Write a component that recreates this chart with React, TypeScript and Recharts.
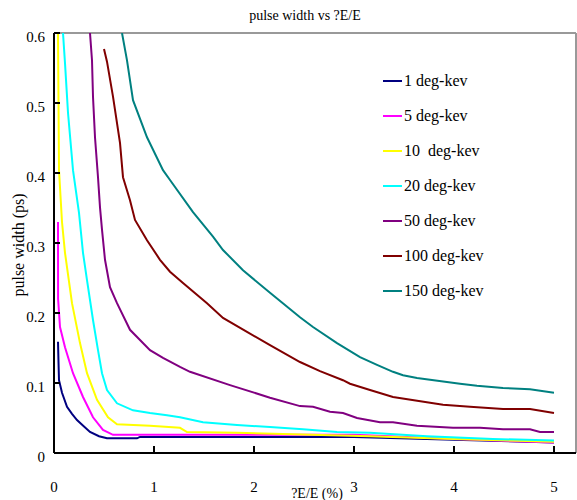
import React from "react";
import { LineChart, Line, XAxis, YAxis, ReferenceLine } from "recharts";

const xTicks = [0, 1, 2, 3, 4, 5];
const yTicks = [0, 0.1, 0.2, 0.3, 0.4, 0.5, 0.6];

const x1 = [0.04, 0.045, 0.05, 0.08, 0.13, 0.18, 0.23, 0.3, 0.36, 0.45, 0.53, 0.83, 0.86, 2.0, 3.0, 4.0, 5.0];
const y1 = [0.159, 0.13, 0.104, 0.086, 0.066, 0.056, 0.047, 0.038, 0.03, 0.024, 0.021, 0.021, 0.023, 0.023, 0.023, 0.019, 0.015];

const x5 = [0.04, 0.041, 0.06, 0.11, 0.19, 0.29, 0.39, 0.49, 0.59, 1.0, 2.0, 3.0, 4.0, 5.0];
const y5 = [0.33, 0.22, 0.18, 0.151, 0.114, 0.08, 0.051, 0.033, 0.026, 0.026, 0.026, 0.026, 0.02, 0.015];

const x10 = [0.04, 0.05, 0.08, 0.11, 0.18, 0.26, 0.33, 0.43, 0.54, 0.63, 0.96, 1.26, 1.33, 1.83, 3.16, 4.0, 5.0];
const y10 = [0.6, 0.404, 0.33, 0.286, 0.214, 0.157, 0.114, 0.076, 0.051, 0.041, 0.039, 0.036, 0.03, 0.029, 0.024, 0.02, 0.016];

const x20 = [0.09, 0.11, 0.14, 0.19, 0.25, 0.29, 0.33, 0.39, 0.44, 0.48, 0.53, 0.63, 0.79, 0.96, 1.13, 1.26, 1.49, 1.83, 2.16, 2.49, 2.83, 3.16, 3.73, 4.39, 5.0];
const y20 = [0.6, 0.557, 0.486, 0.404, 0.343, 0.286, 0.247, 0.19, 0.147, 0.114, 0.09, 0.071, 0.061, 0.057, 0.054, 0.051, 0.044, 0.04, 0.037, 0.034, 0.03, 0.029, 0.024, 0.02, 0.018];

const x50 = [0.36, 0.38, 0.39, 0.41, 0.44, 0.46, 0.48, 0.51, 0.56, 0.63, 0.76, 0.96, 1.09, 1.26, 1.36, 1.76, 2.16, 2.46, 2.59, 2.76, 2.89, 3.03, 3.26, 3.39, 3.63, 3.99, 4.26, 4.49, 4.76, 4.86, 5.0];
const y50 = [0.6, 0.561, 0.509, 0.451, 0.394, 0.351, 0.319, 0.276, 0.237, 0.214, 0.176, 0.147, 0.136, 0.123, 0.116, 0.097, 0.079, 0.067, 0.066, 0.059, 0.057, 0.05, 0.044, 0.044, 0.039, 0.036, 0.036, 0.034, 0.034, 0.03, 0.03];

const x100 = [0.5, 0.53, 0.59, 0.66, 0.69, 0.76, 0.81, 0.93, 1.06, 1.16, 1.29, 1.53, 1.69, 1.93, 2.16, 2.46, 2.66, 2.89, 2.96, 3.16, 3.39, 3.89, 4.16, 4.49, 4.76, 5.0];
const y100 = [0.577, 0.559, 0.509, 0.443, 0.394, 0.361, 0.333, 0.304, 0.276, 0.259, 0.243, 0.214, 0.193, 0.173, 0.154, 0.13, 0.117, 0.104, 0.099, 0.09, 0.08, 0.069, 0.066, 0.063, 0.063, 0.057];

const x150 = [0.68, 0.73, 0.79, 0.93, 1.09, 1.16, 1.39, 1.59, 1.69, 1.89, 2.16, 2.46, 2.59, 2.83, 3.06, 3.23, 3.39, 3.49, 3.63, 4.06, 4.23, 4.49, 4.76, 5.0];
const y150 = [0.6, 0.561, 0.504, 0.451, 0.404, 0.39, 0.344, 0.309, 0.29, 0.261, 0.229, 0.194, 0.18, 0.157, 0.137, 0.126, 0.116, 0.111, 0.107, 0.099, 0.096, 0.093, 0.091, 0.086];

const seriesNames = ["1 deg-kev", "5 deg-kev", "10  deg-kev", "20 deg-kev", "50 deg-kev", "100 deg-kev", "150 deg-kev"];
const seriesColors = ["#000080", "#FF00FF", "#FFFF00", "#00FFFF", "#800080", "#800000", "#008080"];
const seriesX = [x1, x5, x10, x20, x50, x100, x150];
const seriesY = [y1, y5, y10, y20, y50, y100, y150];

const series = seriesNames.map((name, i) => ({
  name,
  color: seriesColors[i],
  data: seriesX[i].map((x, j) => ({ x, y: seriesY[i][j] })),
}));

const FONT = "'Liberation Serif', 'Times New Roman', serif";

const XTick = (props: any) => {
  const { x, y, payload } = props;
  return (
    <g>
      <line x1={x} y1={y} x2={x} y2={y - 7} stroke="#000" strokeWidth={2} />
      <text x={x} y={y + 39} textAnchor="middle" fontSize={15} fontFamily={FONT} fill="#000">
        {payload.value}
      </text>
    </g>
  );
};

const YTick = (props: any) => {
  const { x, y, payload } = props;
  return (
    <g>
      <line x1={x} y1={y} x2={x + 6} y2={y} stroke="#000" strokeWidth={2} />
      <text x={x - 9} y={y + 9} textAnchor="end" fontSize={15} fontFamily={FONT} fill="#000">
        {payload.value}
      </text>
    </g>
  );
};

export default function App() {
  return (
    <div style={{ position: "absolute", left: 0, top: 0, width: 577, height: 500, background: "#fff" }}>
      <LineChart
        width={577}
        height={500}
        margin={{ top: 33, right: 1, bottom: 46, left: 53 }}
      >
        <XAxis
          type="number"
          dataKey="x"
          domain={[0, 5.22]}
          ticks={xTicks}
          allowDataOverflow
          height={1}
          tickSize={0}
          tickMargin={0}
          tickLine={false}
          axisLine={{ stroke: "#000", strokeWidth: 2 }}
          tick={<XTick />}
          interval={0}
        />
        <YAxis
          type="number"
          dataKey="y"
          domain={[0, 0.6]}
          ticks={yTicks}
          allowDataOverflow
          width={1}
          tickSize={0}
          tickMargin={0}
          tickLine={false}
          axisLine={{ stroke: "#000", strokeWidth: 2 }}
          tick={<YTick />}
          interval={0}
        />
        <ReferenceLine y={0.6} stroke="#999" strokeWidth={2} />
        <ReferenceLine x={5.22} stroke="#999" strokeWidth={2} />
        {series.map((s) => (
          <Line
            key={s.name}
            data={s.data}
            dataKey="y"
            name={s.name}
            type="linear"
            stroke={s.color}
            strokeWidth={2}
            dot={false}
            isAnimationActive={false}
          />
        ))}
      </LineChart>
      <div
        style={{
          position: "absolute",
          left: 383,
          top: 63,
          fontFamily: FONT,
          fontSize: 16,
          color: "#000",
        }}
      >
        {series.map((s) => (
          <div key={s.name} style={{ height: 35, display: "flex", alignItems: "center", whiteSpace: "pre" }}>
            <svg width={21} height={4} style={{ display: "block" }}>
              <line x1={0} y1={2} x2={19} y2={2} stroke={s.color} strokeWidth={2} />
            </svg>
            <span>{s.name}</span>
          </div>
        ))}
      </div>
      <svg
        width={577}
        height={500}
        style={{ position: "absolute", left: 0, top: 0, pointerEvents: "none" }}
      >
        <text x={305} y={20} textAnchor="middle" fontSize={14} fontFamily={FONT} fill="#000">
          pulse width vs ?E/E
        </text>
        <text x={317} y={498} textAnchor="middle" fontSize={14} fontFamily={FONT} fill="#000">
          ?E/E (%)
        </text>
        <text
          x={24}
          y={245}
          textAnchor="middle"
          fontSize={16}
          fontFamily={FONT}
          fill="#000"
          transform="rotate(-90 24 245)"
        >
          pulse width (ps)
        </text>
      </svg>
    </div>
  );
}
